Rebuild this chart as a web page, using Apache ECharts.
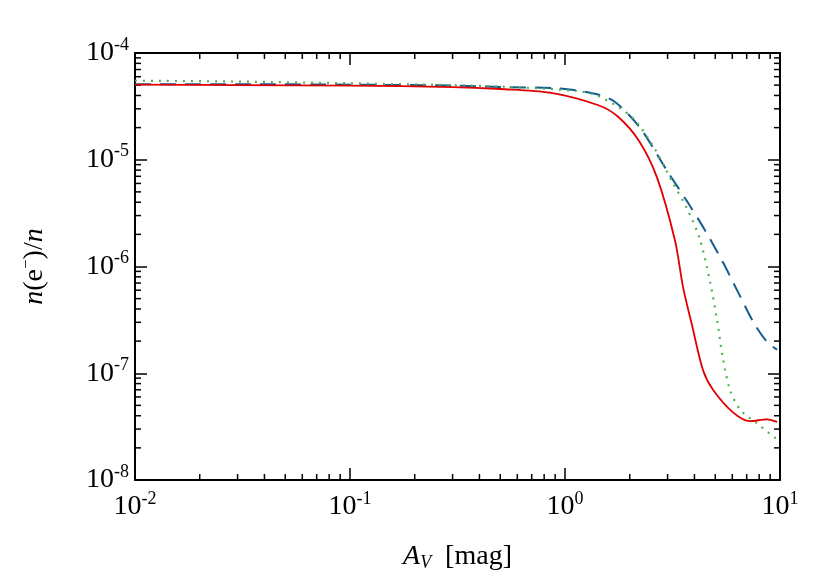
<!DOCTYPE html>
<html>
<head>
<meta charset="utf-8">
<script src="https://cdn.jsdelivr.net/npm/echarts@6/dist/echarts.min.js"></script>
<style>html,body{margin:0;padding:0;background:#fff}#main{width:830px;height:577px}</style>
</head>
<body>
<div id="main"></div>
<script>
// A_V [mag] vs n(e-)/n
var redX = [0.01, 0.03, 0.1, 0.3, 0.5, 0.85, 1.43, 1.76, 2.21, 2.68, 3.25, 3.54, 3.9, 4.39, 4.88, 6.04, 7.25, 8.7, 9.7];
var redY = [5.05e-5, 5.0e-5, 4.95e-5, 4.8e-5, 4.6e-5, 4.25e-5, 3.24e-5, 2.54e-5, 1.5e-5, 6.8e-6, 1.74e-6, 6.4e-7, 2.8e-7, 1.06e-7, 7e-8, 4.3e-8, 3.56e-8, 3.7e-8, 3.5e-8];

var blueX = [0.01, 0.03, 0.1, 0.3, 0.5, 0.95, 1.41, 1.71, 2.23, 2.98, 3.69, 4.47, 5.42, 6.38, 7.6, 8.7, 9.7];
var blueY = [5.1e-5, 5.1e-5, 5.05e-5, 4.95e-5, 4.8e-5, 4.65e-5, 4.1e-5, 3.47e-5, 2.0e-5, 7.9e-6, 4.1e-6, 2.2e-6, 1.1e-6, 5.75e-7, 2.9e-7, 1.97e-7, 1.66e-7];

var greenX = [0.01, 0.03, 0.1, 0.3, 0.5, 1.14, 1.45, 2.05, 2.57, 3.14, 3.69, 4.24, 4.72, 5.09, 5.42, 5.85, 6.51, 7.8, 9.7];
var greenY = [5.5e-5, 5.4e-5, 5.2e-5, 5.0e-5, 4.85e-5, 4.4e-5, 3.9e-5, 2.5e-5, 1.34e-5, 6.3e-6, 3.5e-6, 1.8e-6, 7.3e-7, 3.2e-7, 1.4e-7, 7e-8, 4.6e-8, 3.4e-8, 2.4e-8];

var xDecades = [0.01, 0.1, 1, 10];
var yDecades = [1e-8, 1e-7, 1e-6, 1e-5, 1e-4];

function pairs(xs, ys) {
    return xs.map(function (x, i) { return [x, ys[i]]; });
}

function powLabel(v) {
    var e = Math.round(Math.log10(v));
    return '{b|10}{s|' + e + '}';
}

var rich = {
    b: { fontFamily: 'Liberation Serif', fontSize: 28, color: '#000' },
    s: { fontFamily: 'Liberation Serif', fontSize: 18, color: '#000', padding: [0, 0, 16, 0] }
};

// minor tick positions at 2..9 of each decade
var minorX = [], minorY = [];
xDecades.slice(0, -1).forEach(function (d) { for (var k = 2; k < 10; k++) minorX.push(d * k); });
yDecades.slice(0, -1).forEach(function (d) { for (var k = 2; k < 10; k++) minorY.push(d * k); });

var chart = echarts.init(document.getElementById('main'));

function tickSeries(vals, isX) {
    return {
        type: 'custom',
        silent: true,
        xAxisIndex: 0, yAxisIndex: 0,
        data: vals.map(function (v) { return [v]; }),
        renderItem: function (params, api) {
            var cs = params.coordSys;
            var v = api.value(0);
            var len = 6, lines = [];
            if (isX) {
                var px = api.coord([v, 1e-6])[0];
                lines.push([px, cs.y + cs.height, px, cs.y + cs.height - len]);
                lines.push([px, cs.y, px, cs.y + len]);
            } else {
                var py = api.coord([1, v])[1];
                lines.push([cs.x, py, cs.x + len, py]);
                lines.push([cs.x + cs.width, py, cs.x + cs.width - len, py]);
            }
            return {
                type: 'group',
                children: lines.map(function (l) {
                    return { type: 'line', shape: { x1: l[0], y1: l[1], x2: l[2], y2: l[3] }, style: { stroke: '#000', lineWidth: 1.5 } };
                })
            };
        }
    };
}

var axisLineStyle = { lineStyle: { color: '#000', width: 2 } };

var option = {
    backgroundColor: '#fff',
    animation: false,
    grid: { left: 135, right: 50, top: 53, bottom: 80 },
    xAxis: [{
        type: 'log', min: 0.01, max: 10, logBase: 10,
        axisLine: axisLineStyle,
        axisTick: { inside: true, length: 12, lineStyle: { color: '#000', width: 1.5 } },
        axisLabel: { formatter: powLabel, rich: rich, margin: 10 },
        splitLine: { show: false },
        name: '{i|A}{sub|V}{t|  [mag]}', nameLocation: 'middle', nameGap: 62,
        nameTextStyle: { rich: {
            i: { fontFamily: 'Liberation Serif', fontStyle: 'italic', fontSize: 28, color: '#000' },
            sub: { fontFamily: 'Liberation Serif', fontStyle: 'italic', fontSize: 18, color: '#000', padding: [12, 0, 0, 0] },
            t: { fontFamily: 'Liberation Serif', fontSize: 28, color: '#000' }
        } }
    }, {
        type: 'log', min: 0.01, max: 10, position: 'top',
        axisLine: axisLineStyle,
        axisTick: { inside: true, length: 12, lineStyle: { color: '#000', width: 1.5 } },
        axisLabel: { show: false }, splitLine: { show: false }
    }],
    yAxis: [{
        type: 'log', min: 1e-8, max: 1e-4,
        axisLine: axisLineStyle,
        axisTick: { inside: true, length: 12, lineStyle: { color: '#000', width: 1.5 } },
        axisLabel: { formatter: powLabel, rich: rich, margin: 6 },
        splitLine: { show: false },
        name: '{i|n}{t|(e}{sup|−}{t|)/}{i|n}', nameLocation: 'middle', nameGap: 84, nameRotate: 90,
        nameTextStyle: { rich: {
            i: { fontFamily: 'Liberation Serif', fontStyle: 'italic', fontSize: 28, color: '#000' },
            t: { fontFamily: 'Liberation Serif', fontSize: 28, color: '#000' },
            sup: { fontFamily: 'Liberation Serif', fontSize: 17, color: '#000', padding: [0, 0, 16, 0] }
        } }
    }, {
        type: 'log', min: 1e-8, max: 1e-4, position: 'right',
        axisLine: axisLineStyle,
        axisTick: { inside: true, length: 12, lineStyle: { color: '#000', width: 1.5 } },
        axisLabel: { show: false }, splitLine: { show: false }
    }],
    series: [
        tickSeries(minorX, true),
        tickSeries(minorY, false),
        {
            name: 'blue', type: 'line', data: pairs(blueX, blueY), showSymbol: false, smooth: 0.3,
            lineStyle: { color: '#135f92', width: 2, type: [16, 9] }
        },
        {
            name: 'green', type: 'line', data: pairs(greenX, greenY), showSymbol: false, smooth: 0.3,
            lineStyle: { color: '#4fb050', width: 2.2, type: [2, 6] }
        },
        {
            name: 'red', type: 'line', data: pairs(redX, redY), showSymbol: false, smooth: 0.3,
            lineStyle: { color: '#e00000', width: 1.8 }
        }
    ]
};

option && chart.setOption(option);
</script>
</body>
</html>
